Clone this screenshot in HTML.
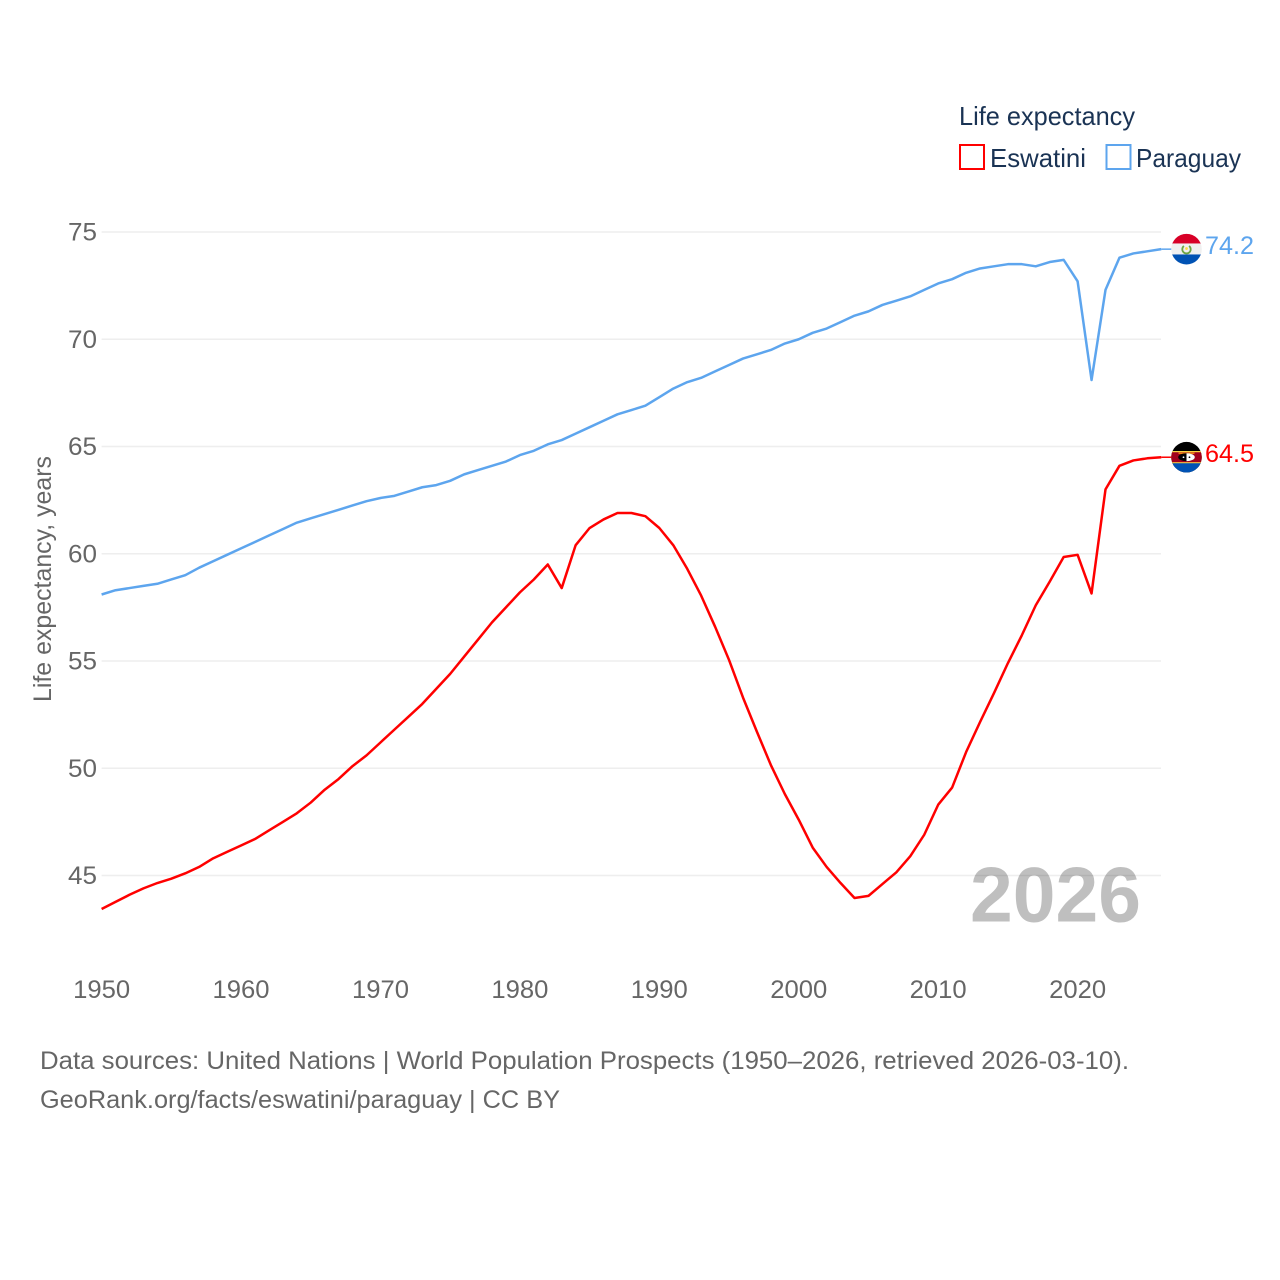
<!DOCTYPE html>
<html lang="en">
<head>
<meta charset="utf-8">
<title>Life expectancy: Eswatini and Paraguay</title>
<style>
html,body{margin:0;padding:0;background:#fff;width:1280px;height:1280px;overflow:hidden}
svg{display:block;font-family:"Liberation Sans",Arial,sans-serif}
</style>
</head>
<body>
<svg id="chart" width="1280" height="1280" viewBox="0 0 1280 1280" xmlns="http://www.w3.org/2000/svg">
  <defs>
    <clipPath id="clip-py"><circle cx="0" cy="0" r="15.3"/></clipPath>
    <clipPath id="clip-sz"><circle cx="0" cy="0" r="15.3"/></clipPath>
  </defs>
  <g id="grid"></g>
  <g id="yticks"></g>
  <g id="xticks"></g>
  <text transform="translate(51,702) rotate(-90)" font-size="25" fill="#666" textLength="246" lengthAdjust="spacingAndGlyphs">Life expectancy, years</text>
  <text x="970" y="921.5" font-size="78" font-weight="700" fill="#000" fill-opacity="0.25" textLength="171" lengthAdjust="spacingAndGlyphs">2026</text>
  <path id="line-sz" fill="none" stroke="#ff0000" stroke-width="2.5" stroke-linejoin="round"/>
  <path id="line-py" fill="none" stroke="#5da5ee" stroke-width="2.5" stroke-linejoin="round"/>
  <line id="conn-sz" stroke="#ff0000" stroke-width="1.5"/>
  <line id="conn-py" stroke="#5da5ee" stroke-width="1.5"/>

  <g id="flag-py">
    <g clip-path="url(#clip-py)">
      <rect x="-16" y="-16" width="32" height="32" fill="#f0f0f0"/>
      <rect x="-16" y="-16" width="32" height="10.3" fill="#d80027"/>
      <rect x="-16" y="5.3" width="32" height="11" fill="#0052b4"/>
      <path d="M-2.6,-3.2 A4.2,4.2 0 1 0 2.6,-3.2" fill="none" stroke="#6da544" stroke-width="1.8"/>
      <circle cx="0" cy="-0.6" r="1.4" fill="#ffda44"/>
    </g>
  </g>
  <g id="flag-sz">
    <g clip-path="url(#clip-sz)">
      <rect x="-16" y="-16" width="32" height="32" fill="#000"/>
      <rect x="-16" y="-6.2" width="32" height="12.6" fill="#ffda44"/>
      <rect x="-16" y="-5" width="32" height="10" fill="#a2001d"/>
      <rect x="-16" y="6" width="32" height="10" fill="#0052b4"/>
      <rect x="-8" y="-4.6" width="16" height="1.2" fill="#ff9811"/>
      <ellipse cx="0" cy="0" rx="8.3" ry="4" fill="#000"/>
      <path d="M0,-4 A8.3,4 0 0 1 0,4 Z" fill="#fff"/>
      <circle cx="-3" cy="0" r="0.9" fill="#fff"/>
      <circle cx="3" cy="0" r="0.9" fill="#000"/>
    </g>
  </g>
  <text id="val-py" x="1205" font-size="25" fill="#5da5ee" textLength="49" lengthAdjust="spacingAndGlyphs"></text>
  <text id="val-sz" x="1205" font-size="25" fill="#ff0000" textLength="49" lengthAdjust="spacingAndGlyphs"></text>

  <g>
    <text x="959" y="125" font-size="26" fill="#1a3354" textLength="176" lengthAdjust="spacingAndGlyphs">Life expectancy</text>
    <rect x="960" y="145" width="24" height="24" fill="#fff" stroke="#ff0000" stroke-width="2"/>
    <text x="990" y="167" font-size="26" fill="#1a3354" textLength="96" lengthAdjust="spacingAndGlyphs">Eswatini</text>
    <rect x="1106.5" y="145" width="24" height="24" fill="#fff" stroke="#5da5ee" stroke-width="2"/>
    <text x="1136" y="167" font-size="26" fill="#1a3354" textLength="105" lengthAdjust="spacingAndGlyphs">Paraguay</text>
  </g>

  <text x="40" y="1069" font-size="25" fill="#666" textLength="1089" lengthAdjust="spacingAndGlyphs">Data sources: United Nations | World Population Prospects (1950–2026, retrieved 2026-03-10).</text>
  <text x="40" y="1108" font-size="25" fill="#666" textLength="520" lengthAdjust="spacingAndGlyphs">GeoRank.org/facts/eswatini/paraguay | CC BY</text>
</svg>
<script>
const firstYear = 1950;
const yTickValues = [45, 50, 55, 60, 65, 70, 75];
const xTickValues = [1950, 1960, 1970, 1980, 1990, 2000, 2010, 2020];
const eswatiniValues = [
  43.44,43.77,44.1,44.4,44.65,44.85,45.1,45.4,45.8,46.1,
  46.4,46.7,47.1,47.5,47.9,48.4,49,49.5,50.1,50.6,
  51.2,51.8,52.4,53,53.7,54.4,55.2,56,56.8,57.5,
  58.2,58.8,59.5,58.4,60.4,61.2,61.6,61.9,61.9,61.75,
  61.2,60.4,59.3,58.05,56.6,55.05,53.3,51.7,50.15,48.8,
  47.6,46.3,45.4,44.65,43.95,44.05,44.6,45.15,45.9,46.9,
  48.3,49.1,50.75,52.15,53.5,54.9,56.2,57.6,58.7,59.85,
  59.95,58.15,63,64.1,64.35,64.45,64.5
];
const paraguayValues = [
  58.1,58.3,58.4,58.5,58.6,58.8,59.0,59.35,59.65,59.95,
  60.25,60.55,60.85,61.15,61.45,61.65,61.85,62.05,62.25,62.45,
  62.6,62.7,62.9,63.1,63.2,63.4,63.7,63.9,64.1,64.3,
  64.6,64.8,65.1,65.3,65.6,65.9,66.2,66.5,66.7,66.9,
  67.3,67.7,68,68.2,68.5,68.8,69.1,69.3,69.5,69.8,
  70,70.3,70.5,70.8,71.1,71.3,71.6,71.8,72,72.3,
  72.6,72.8,73.1,73.3,73.4,73.5,73.5,73.4,73.6,73.7,
  72.7,68.1,72.3,73.8,74,74.1,74.2
];

const NS = 'http://www.w3.org/2000/svg';
function xScale(year) { return 101.6 + (year - 1950) * 13.943; }
function yScale(v) { return 232 + (75 - v) * 21.45; }
function linePath(vals) {
  return vals.map(function (v, i) {
    return (i ? 'L' : 'M') + xScale(firstYear + i).toFixed(2) + ',' + yScale(v).toFixed(2);
  }).join(' ');
}

const grid = document.getElementById('grid');
const yG = document.getElementById('yticks');
const xG = document.getElementById('xticks');

yTickValues.forEach(function (v) {
  const l = document.createElementNS(NS, 'line');
  
  
  l.setAttribute('x1', 101.6);
  l.setAttribute('x2', 1161);
  l.setAttribute('y1', yScale(v));
  l.setAttribute('y2', yScale(v));
  l.setAttribute('stroke', '#eeeeee');
  l.setAttribute('stroke-width', '1.4');
  grid.appendChild(l);

  const t = document.createElementNS(NS, 'text');
  
  
  t.setAttribute('x', 97);
  t.setAttribute('y', yScale(v) + 8.5);
  t.setAttribute('text-anchor', 'end');
  t.setAttribute('font-size', '25');
  t.setAttribute('fill', '#666');
  t.setAttribute('textLength', '29');
  t.setAttribute('lengthAdjust', 'spacingAndGlyphs');
  t.textContent = String(v);
  yG.appendChild(t);
});

xTickValues.forEach(function (yr) {
  const t = document.createElementNS(NS, 'text');
  
  
  t.setAttribute('x', xScale(yr));
  t.setAttribute('y', 998);
  t.setAttribute('text-anchor', 'middle');
  t.setAttribute('font-size', '25');
  t.setAttribute('fill', '#666');
  t.setAttribute('textLength', '57');
  t.setAttribute('lengthAdjust', 'spacingAndGlyphs');
  t.textContent = String(yr);
  xG.appendChild(t);
});

document.getElementById('line-sz').setAttribute('d', linePath(eswatiniValues));
document.getElementById('line-py').setAttribute('d', linePath(paraguayValues));

function endMarks(vals, key) {
  const last = vals[vals.length - 1];
  const lastX = xScale(firstYear + vals.length - 1);
  const y = yScale(last);
  const c = document.getElementById('conn-' + key);
  c.setAttribute('x1', lastX);
  c.setAttribute('y1', y);
  c.setAttribute('x2', 1172);
  c.setAttribute('y2', y);
  document.getElementById('flag-' + key).setAttribute('transform', 'translate(1186.5,' + y + ')');
  const t = document.getElementById('val-' + key);
  t.setAttribute('y', y + 5);
  t.textContent = last.toFixed(1);
}
endMarks(paraguayValues, 'py');
endMarks(eswatiniValues, 'sz');
</script>
</body>
</html>
